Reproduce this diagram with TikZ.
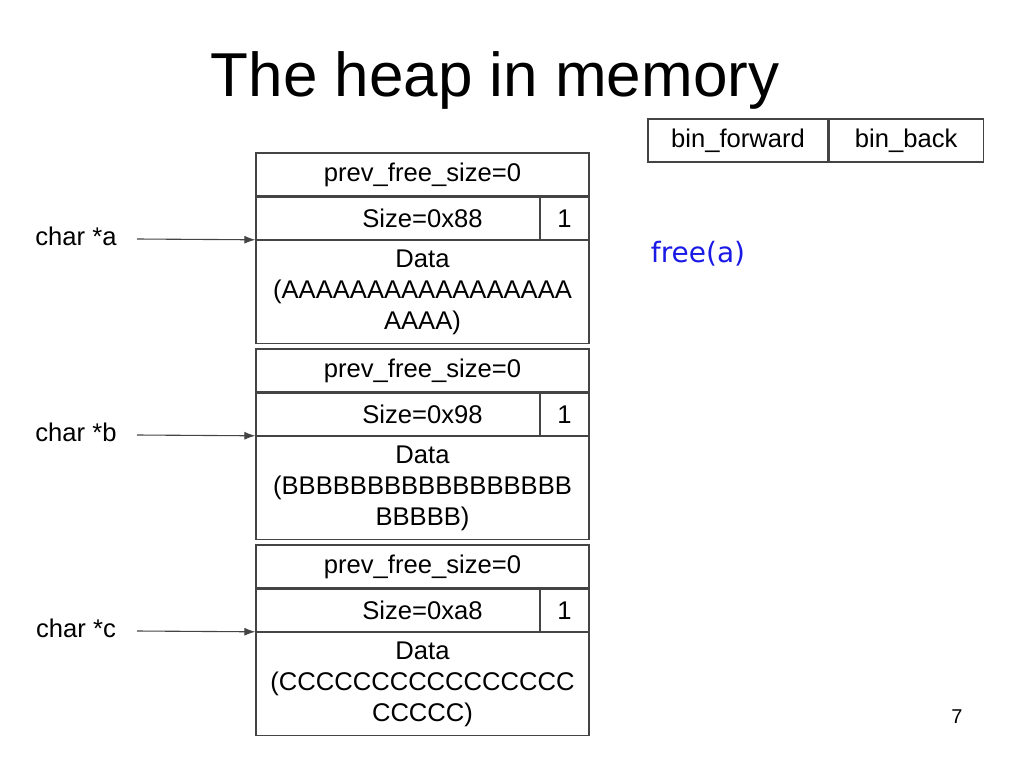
\documentclass[tikz,border=0pt]{standalone}
\usepackage{fontspec}
\setmainfont{Liberation Sans}
\newfontfamily\freefont{DejaVu Sans}
\usepackage{tikz}
\usetikzlibrary{positioning, arrows.meta}
\definecolor{myblue}{HTML}{1A1AE6}
\definecolor{mygray}{HTML}{444444}
\tikzset{
	cellbox/.style={draw=mygray, line width=1.2pt, minimum width=333pt, inner sep=0pt, font=\fontsize{25.6}{31}\selectfont}
}
\tikzset{
	flagbox/.style={cellbox, minimum width=49pt}
}
\tikzset{
	datatext/.style={cellbox, minimum height=103pt, align=center}
}
\tikzset{
	ptrtext/.style={font=\fontsize{25.6}{31}\selectfont}
}
\tikzset{
	ptrarrow/.style={draw=mygray, line width=1.1pt, -{Latex[length=11pt,width=8pt]}}
}

\begin{document}
\begin{tikzpicture}[x=1pt,y=-1pt]
\useasboundingbox (0,0) rectangle (1024,768);

\node[font=\fontsize{62}{70}\selectfont] (title) at (495,80) {The heap in memory};

% bin list header
\node[cellbox, minimum width=180pt, minimum height=43pt] (binf) at (738,140.5) {bin\_forward};
\node[cellbox, minimum width=154pt, minimum height=43pt, right=0pt of binf] (binb) {bin\_back};

% chunk a
\node[cellbox, minimum height=43pt] (aprev) at (422.5,174.5) {prev\_free\_size=0};
\node[cellbox, minimum height=42pt, below=0pt of aprev] (asize) {Size=0x88};
\node[flagbox, minimum height=42pt, anchor=east] (aflag) at (asize.east) {1};
\node[datatext, below=0pt of asize] (adata) {Data\\(AAAAAAAAAAAAAAAAA\\AAAA)};

% chunk b
\node[cellbox, minimum height=43pt] (bprev) at (422.5,370.5) {prev\_free\_size=0};
\node[cellbox, minimum height=42pt, below=0pt of bprev] (bsize) {Size=0x98};
\node[flagbox, minimum height=42pt, anchor=east] (bflag) at (bsize.east) {1};
\node[datatext, below=0pt of bsize] (bdata) {Data\\(BBBBBBBBBBBBBBBBB\\BBBBB)};

% chunk c
\node[cellbox, minimum height=43pt] (cprev) at (422.5,566.5) {prev\_free\_size=0};
\node[cellbox, minimum height=42pt, below=0pt of cprev] (csize) {Size=0xa8};
\node[flagbox, minimum height=42pt, anchor=east] (cflag) at (csize.east) {1};
\node[datatext, below=0pt of csize] (cdata) {Data\\(CCCCCCCCCCCCCCCC\\CCCCC)};

% pointers
\node[ptrtext] (pa) at (76,236) {char *a};
\node[ptrtext] (pb) at (76,432) {char *b};
\node[ptrtext] (pc) at (76,628) {char *c};
\coordinate (sa) at (137,239);
\coordinate (sb) at (137,435);
\coordinate (sc) at (137,631);
\draw[ptrarrow] (sa) -- (adata.north west);
\draw[ptrarrow] (sb) -- (bdata.north west);
\draw[ptrarrow] (sc) -- (cdata.north west);

\node[font=\freefont\fontsize{28}{32}\selectfont, text=myblue] (freea) at (698,254) {free(a)};

\node[font=\fontsize{20}{24}\selectfont] (pagenum) at (957,717) {7};

\end{tikzpicture}
\end{document}
